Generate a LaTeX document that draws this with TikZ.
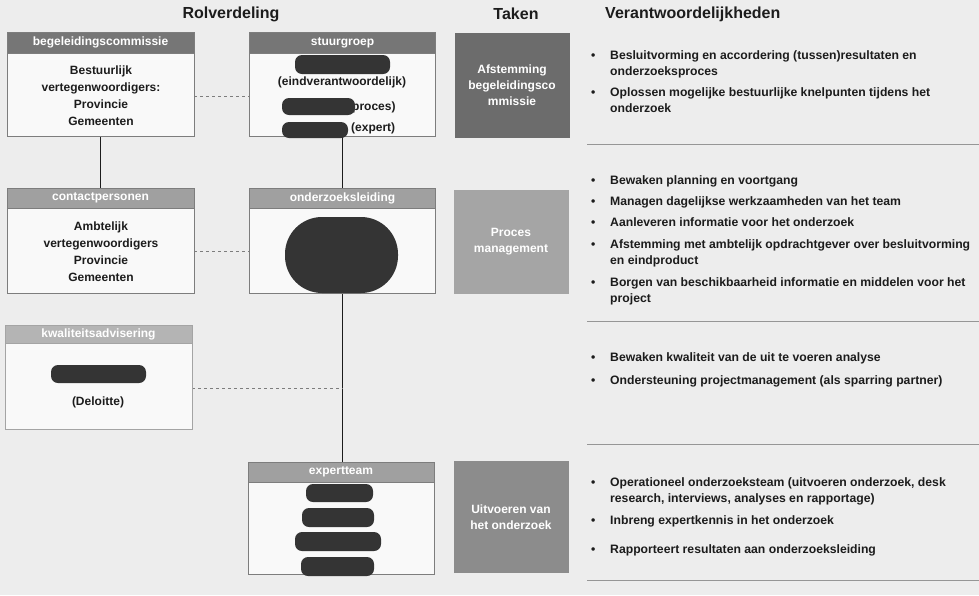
\documentclass[tikz,border=0pt]{standalone}
\usepackage{fontspec}
\setmainfont{Liberation Sans}
\usetikzlibrary{positioning,calc,backgrounds}
\definecolor{paper}{RGB}{237,237,237}
\definecolor{boxfill}{RGB}{249,249,249}
\definecolor{frame}{RGB}{125,125,125}
\definecolor{hdA}{RGB}{118,118,118}
\definecolor{hdB}{RGB}{160,160,160}
\definecolor{hdC}{RGB}{180,180,180}
\definecolor{tkA}{RGB}{108,108,108}
\definecolor{tkB}{RGB}{165,165,165}
\definecolor{tkC}{RGB}{140,140,140}
\definecolor{blob}{RGB}{52,52,52}
\definecolor{ink}{RGB}{28,28,28}
\definecolor{rule}{RGB}{150,150,150}
\tikzset{
  kolkop/.style={font=\fontsize{16}{18}\selectfont\bfseries,text=ink,inner sep=0pt},
  rolbox/.style={draw=frame,fill=boxfill,line width=0.8pt,inner sep=0pt,minimum width=187pt},
  kop/.style={draw=frame,fill=#1,line width=0.8pt,text=white,inner sep=0pt,minimum width=187pt,
    font=\fontsize{12}{14}\selectfont\bfseries},
  rol/.style={align=center,text=ink,inner sep=0pt,font=\fontsize{12}{17}\selectfont\bfseries},
  zwart/.style={fill=blob,rounded corners=7pt,inner sep=0pt},
  taak/.style={fill=#1,text=white,align=center,inner sep=0pt,minimum width=115pt,
    font=\fontsize{12}{16}\selectfont\bfseries},
  punt/.style={anchor=base west,align=left,text=ink,inner sep=0pt,
    font=\fontsize{12.2}{16}\selectfont\bfseries},
  lijn/.style={draw=ink,line width=1.1pt},
  stippel/.style={draw=frame,line width=0.8pt,dashed},
  scheid/.style={draw=rule,line width=0.9pt},
}
\newcommand{\bol}{\makebox[19pt][l]{\textbullet}}
\newcommand{\inspring}{\hspace*{19pt}}

\begin{document}
\begin{tikzpicture}[x=1pt,y=-1pt]
\useasboundingbox (0,0) rectangle (979,595);
% column headings
\node[kolkop] (hrol) at (231,14) {Rolverdeling};
\node[kolkop] (htaak) at (516,14) {Taken};
\node[kolkop,anchor=west] (hver) at (605,14) {Verantwoordelijkheden};

% begeleidingscommissie
\node[rolbox,minimum height=104pt] (bc) at (100.5,84) {};
\node[kop=hdA,anchor=north,minimum height=21pt] (bch) at (bc.north) {begeleidingscommissie};
\node[rol] (bct) at (101,96) {Bestuurlijk\\vertegenwoordigers:\\Provincie\\Gemeenten};

% stuurgroep
\node[rolbox,minimum height=104pt,minimum width=186pt] (sg) at (342.5,84) {};
\node[kop=hdA,anchor=north,minimum height=21pt,minimum width=186pt] (sgh) at (sg.north) {stuurgroep};
\node[zwart,minimum width=95pt,minimum height=19pt] (sg1) at (342.5,64.5) {};
\node[rol] (sgt1) at (342,82) {(eindverantwoordelijk)};
\node[rol,anchor=west] (sgt2) at (352,107) {proces)};
\node[zwart,minimum width=73pt,minimum height=17pt] (sg2) at (318.5,106.5) {};
\node[rol,anchor=west] (sgt3) at (351,128) {(expert)};
\node[zwart,minimum width=66pt,minimum height=16pt] (sg3) at (315,130) {};

% contactpersonen
\node[rolbox,minimum height=105pt] (cp) at (100.5,240.5) {};
\node[kop=hdB,anchor=north,minimum height=20pt] (cph) at (cp.north) {contactpersonen};
\node[rol] (cpt) at (101,251.5) {Ambtelijk\\vertegenwoordigers\\Provincie\\Gemeenten};

% onderzoeksleiding
\node[rolbox,minimum height=105pt,minimum width=186pt] (ol) at (342.5,240.5) {};
\node[kop=hdB,anchor=north,minimum height=20pt,minimum width=186pt] (olh) at (ol.north) {onderzoeksleiding};
\node[zwart,minimum width=113pt,minimum height=76pt,rounded corners=37pt] (ol1) at (341.5,255) {};

% kwaliteitsadvisering
\node[rolbox,draw=frame!70,minimum height=104pt] (ka) at (98.5,377) {};
\node[kop=hdC,draw=frame!70,anchor=north,minimum height=18pt] (kah) at (ka.north) {kwaliteitsadvisering};
\node[zwart,minimum width=95pt,minimum height=18pt] (ka1) at (98.5,374) {};
\node[rol] (kat) at (98,402) {(Deloitte)};
\coordinate (kmid) at ($(ka1)!0.5!(kat)$);

% expertteam
\node[rolbox,minimum height=112pt,minimum width=186pt] (et) at (341,518) {};
\node[kop=hdB,anchor=north,minimum height=20pt,minimum width=186pt] (eth) at (et.north) {expertteam};
\node[zwart,minimum width=67pt,minimum height=18pt] (et1) at (339.5,493) {};
\node[zwart,minimum width=72pt,minimum height=19pt] (et2) at (338,517.5) {};
\node[zwart,minimum width=86pt,minimum height=19pt] (et3) at (338,541.5) {};
\node[zwart,minimum width=73pt,minimum height=19pt] (et4) at (337.5,566.5) {};

% taken
\node[taak=tkA,minimum height=105pt] (t1) at (512,85.5) {Afstemming\\begeleidingsco\\mmissie};
\node[taak=tkB,minimum height=104pt] (t2) at (511,242) {Proces\\management};
\node[taak=tkC,minimum height=112pt] (t3) at (511,517) {Uitvoeren van\\het onderzoek};

% verantwoordelijkheden (base = last line)
\node[punt] (v1) at (591,75) {\bol Besluitvorming en accordering (tussen)resultaten en\\\inspring onderzoeksproces};
\node[punt] (v2) at (591,112) {\bol Oplossen mogelijke bestuurlijke knelpunten tijdens het\\\inspring onderzoek};
\node[punt] (v3) at (591,184) {\bol Bewaken planning en voortgang};
\node[punt] (v4) at (591,205) {\bol Managen dagelijkse werkzaamheden van het team};
\node[punt] (v5) at (591,226) {\bol Aanleveren informatie voor het onderzoek};
\node[punt] (v6) at (591,264) {\bol Afstemming met ambtelijk opdrachtgever over besluitvorming\\\inspring en eindproduct};
\node[punt] (v7) at (591,302) {\bol Borgen van beschikbaarheid informatie en middelen voor het\\\inspring project};
\node[punt] (v8) at (591,361) {\bol Bewaken kwaliteit van de uit te voeren analyse};
\node[punt] (v9) at (591,384) {\bol Ondersteuning projectmanagement (als sparring partner)};
\node[punt] (v10) at (591,502) {\bol Operationeel onderzoeksteam (uitvoeren onderzoek, desk\\\inspring research, interviews, analyses en rapportage)};
\node[punt] (v11) at (591,524) {\bol Inbreng expertkennis in het onderzoek};
\node[punt] (v12) at (591,553) {\bol Rapporteert resultaten aan onderzoeksleiding};
\foreach \y in {144,321,444,580}
  \draw[scheid] (587,\y) -- (979,\y);

% connectors
\begin{scope}[on background layer]
  \fill[paper] (0,0) rectangle (979,595);
  \draw[stippel] (bc.east |- bct) -- (sg.west |- bct);
  \draw[stippel] (cp.east |- cpt) -- (ol.west |- cpt);
  \draw[lijn] (bc.south) -- (cp.north);
  \draw[lijn] (sg.south) -- (ol.north);
  \draw[lijn] (ol.south) -- (ol.south |- et.north);
  \draw[stippel] (ka.east |- kmid) -- (ol.south |- kmid);
\end{scope}
\end{tikzpicture}
\end{document}
